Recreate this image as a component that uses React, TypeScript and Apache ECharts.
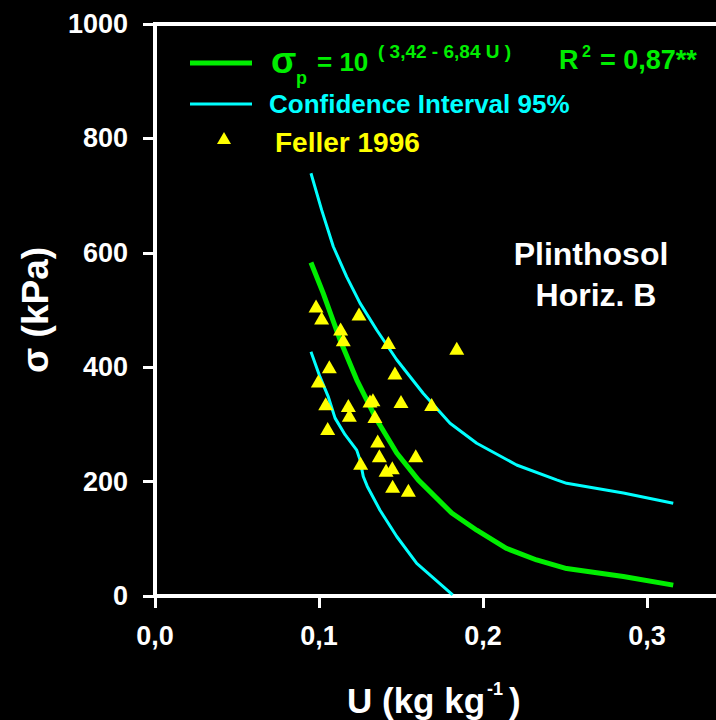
import React, { useEffect, useRef } from "react";
import * as echarts from "echarts";

const FONT = "'Liberation Sans', Arial, sans-serif";
const GREEN = "#00ee00";
const CYAN = "#00ffff";
const YELLOW = "#ffff00";

// Feller 1996 observations: [U (kg/kg), sigma_p (kPa)]
const fellerU = [0.0982, 0.1016, 0.1244, 0.1132, 0.1148, 0.1423, 0.184, 0.1063, 0.1463, 0.0996, 0.1041, 0.1179, 0.1311, 0.1329, 0.15, 0.1687, 0.1185, 0.1341, 0.1053, 0.1358, 0.1368, 0.159, 0.1254, 0.1409, 0.1447, 0.1449, 0.1545];
const fellerSigma = [507, 486, 493, 467, 448, 443, 433, 401, 390, 376, 336, 333, 341, 343, 340, 335, 316, 314, 293, 271, 245, 245, 232, 220, 224, 192, 185];

// Fitted curve
const fitU = [0.0951, 0.1026, 0.1128, 0.123, 0.1352, 0.1474, 0.1605, 0.1809, 0.1962, 0.2145, 0.2327, 0.251, 0.2856, 0.316];
const fitSigma = [583, 529, 448, 378, 308, 250, 203, 145, 115, 83, 63, 48, 34, 19];

// Upper 95% confidence limit
const upU = [0.0951, 0.1016, 0.1087, 0.1169, 0.125, 0.1352, 0.1474, 0.1636, 0.1799, 0.1962, 0.2205, 0.2449, 0.251, 0.2856, 0.316];
const upSigma = [739, 675, 611, 558, 512, 465, 413, 354, 302, 267, 229, 203, 197, 180, 162];

// Lower 95% confidence limit
const lowU = [0.0951, 0.1006, 0.1057, 0.1098, 0.1159, 0.123, 0.125, 0.127, 0.1294, 0.1372, 0.1474, 0.1596, 0.1815];
const lowSigma = [427, 383, 348, 311, 282, 255, 238, 209, 192, 150, 104, 57, 2];

const xTicks = [0, 0.1, 0.2, 0.3];
const yTicks = [0, 200, 400, 600, 800, 1000];

const pairs = (xs: number[], ys: number[]) => xs.map((x, i) => [x, ys[i]]);

export default function App() {
  const ref = useRef<HTMLDivElement>(null);
  useEffect(() => {
    if (!ref.current) return;
    const chart = echarts.init(ref.current, null, { renderer: "svg" });
    const txt = (text: string, x: number, y: number, size: number, fill: string, align = "left") => ({
      type: "text",
      x,
      y,
      style: { text, fill, font: `bold ${size}px ${FONT}`, textAlign: align, textVerticalAlign: "middle" },
      z: 20,
    });
    chart.setOption({
      animation: false,
      backgroundColor: "#000000",
      grid: {
        left: 155,
        top: 24,
        height: 572,
        width: 656,
        outerBoundsMode: "none",
        containLabel: false,
        show: true,
        borderColor: "#ffffff",
        borderWidth: 4,
        backgroundColor: "transparent",
      },
      xAxis: {
        type: "value",
        min: 0,
        max: 0.4,
        interval: 0.1,
        axisLine: { show: true, onZero: false, lineStyle: { color: "#ffffff", width: 4 } },
        axisTick: { show: true, length: 12, lineStyle: { color: "#ffffff", width: 3 } },
        splitLine: { show: false },
        axisLabel: {
          color: "#ffffff",
          fontFamily: FONT,
          fontWeight: "bold",
          fontSize: 27,
          margin: 26,
          formatter: (v: number) => (xTicks.some((t) => Math.abs(t - v) < 1e-6) ? v.toFixed(1).replace(".", ",") : ""),
        },
      },
      yAxis: {
        type: "value",
        min: 0,
        max: 1000,
        interval: 200,
        axisLine: { show: true, onZero: false, lineStyle: { color: "#ffffff", width: 4 } },
        axisTick: { show: true, length: 12, lineStyle: { color: "#ffffff", width: 3 } },
        splitLine: { show: false },
        axisLabel: {
          color: "#ffffff",
          fontFamily: FONT,
          fontWeight: "bold",
          fontSize: 27,
          margin: 27,
          formatter: (v: number) => (yTicks.includes(v) ? String(v) : ""),
        },
        name: "σ (kPa)",
        nameLocation: "middle",
        nameRotate: 90,
        nameGap: 101,
        nameTextStyle: { color: "#ffffff", fontFamily: FONT, fontWeight: "bold", fontSize: 37 },
      },
      series: [
        {
          type: "line",
          data: pairs(upU, upSigma),
          showSymbol: false,
          lineStyle: { color: CYAN, width: 3 },
          itemStyle: { color: CYAN },
          z: 2,
        },
        {
          type: "line",
          data: pairs(lowU, lowSigma),
          showSymbol: false,
          lineStyle: { color: CYAN, width: 3 },
          itemStyle: { color: CYAN },
          z: 2,
        },
        {
          type: "line",
          data: pairs(fitU, fitSigma),
          showSymbol: false,
          lineStyle: { color: GREEN, width: 5 },
          itemStyle: { color: GREEN },
          z: 3,
        },
        {
          type: "scatter",
          data: pairs(fellerU, fellerSigma),
          symbol: "triangle",
          symbolSize: [15, 13],
          itemStyle: { color: YELLOW, opacity: 1 },
          z: 4,
        },
      ],
      graphic: [
        { type: "line", shape: { x1: 190, y1: 63, x2: 252, y2: 63 }, style: { stroke: GREEN, lineWidth: 5 }, z: 20 },
        { type: "line", shape: { x1: 190, y1: 104, x2: 252, y2: 104 }, style: { stroke: CYAN, lineWidth: 3 }, z: 20 },
        { type: "polygon", shape: { points: [[224, 132], [217, 144], [231, 144]] }, style: { fill: YELLOW }, z: 20 },
        txt("σ", 271, 60, 37, GREEN),
        txt("p", 296, 78, 18, GREEN),
        txt("= 10", 317, 62, 26, GREEN),
        txt("( 3,42 - 6,84 U )", 378, 51, 19, GREEN),
        txt("R", 559, 60, 27, GREEN),
        txt("2", 582, 51, 16, GREEN),
        txt("= 0,87**", 600, 60, 27, GREEN),
        txt("Confidence Interval 95%", 269, 104, 26, CYAN),
        txt("Feller 1996", 275, 142, 28, YELLOW),
        txt("Plinthosol", 591, 254, 32, "#ffffff", "center"),
        txt("Horiz. B", 596, 295, 32, "#ffffff", "center"),
        txt("U (kg kg", 347, 700, 35, "#ffffff"),
        txt("-1", 487, 689, 18, "#ffffff"),
        txt(")", 509, 700, 35, "#ffffff"),
      ],
    });
    return () => chart.dispose();
  }, []);
  return (
    <div
      ref={ref}
      style={{ position: "fixed", left: 0, top: 0, width: 716, height: 720, background: "#000" }}
    />
  );
}
